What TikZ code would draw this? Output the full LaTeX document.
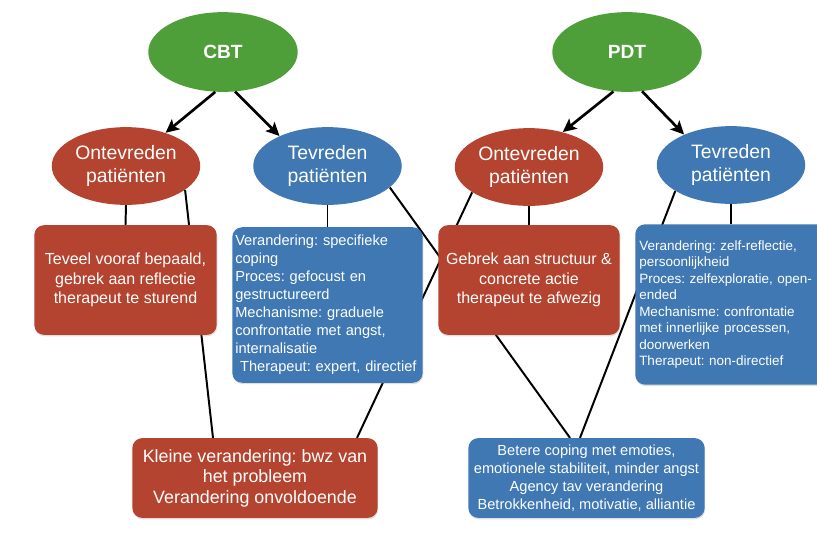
\documentclass[tikz,border=0pt]{standalone}
\usepackage{fontspec}
\setmainfont{Liberation Sans}
\frenchspacing
\usetikzlibrary{shapes.geometric,arrows.meta,backgrounds,calc,shadows}
\definecolor{therapygreen}{HTML}{4E9E3A}
\definecolor{negred}{HTML}{B4432F}
\definecolor{posblue}{HTML}{3F78B2}

\begin{document}
\begin{tikzpicture}[x=0.025cm,y=-0.025cm,
  every node/.style={text=white},
  therapy/.style={ellipse, fill=therapygreen, minimum width=106.3pt, minimum height=56.7pt,
    inner sep=0pt, font=\bfseries\fontsize{13.6}{16}\selectfont},
  patientgroup/.style={ellipse, minimum width=105.6pt, minimum height=55.3pt, inner sep=0pt,
    align=center, font=\fontsize{13.8}{16.3}\selectfont},
  neggroup/.style={patientgroup, fill=negred},
  posgroup/.style={patientgroup, fill=posblue},
  card/.style={rectangle, rounded corners=7pt, inner sep=0pt,
    drop shadow={opacity=0.25, shadow xshift=0.4pt, shadow yshift=-1pt}},
  negcard/.style={card, fill=negred, align=center},
  poscard/.style={card, fill=posblue},
  forkarrow/.style={-{Stealth[length=9.5pt,width=9pt,inset=2pt]}, line width=1.9pt, black},
  tie/.style={line width=1.4pt, black}
]
\useasboundingbox (0,0) rectangle (817,541);
\clip (0,0) rectangle (817,541);

% therapies
\node[therapy] (cbt) at (223,52) {CBT};
\node[therapy] (pdt) at (627,52) {PDT};

% patient groups
\node[neggroup] (oL) at (126,166) {Ontevreden\\patiënten};
\node[posgroup] (tL) at (327.5,166) {Tevreden\\patiënten};
\node[neggroup] (oR) at (529,167) {Ontevreden\\patiënten};
\node[posgroup] (tR) at (731,165) {Tevreden\\patiënten};

% experiences per group
\node[negcard, minimum width=129.7pt, minimum height=78pt,
  font=\fontsize{11.4}{13.8}\selectfont] (teveel) at (125.5,280)
  {Teveel vooraf bepaald,\\gebrek aan reflectie\\therapeut te sturend};
\node[poscard, text width=131.2pt, inner xsep=2.1pt, minimum height=110.6pt, align=left,
  font=\fontsize{10.4}{12.8}\selectfont] (cbtpos) at (327.5,305)
  {Verandering: specifieke\\coping\\Proces: gefocust en\\gestructureerd\\Mechanisme: graduele\\confrontatie met angst,\\internalisatie\\\ Therapeut: expert, directief};
\node[negcard, minimum width=129pt, minimum height=78pt,
  font=\fontsize{11.4}{13.8}\selectfont] (gebrek) at (529,280)
  {Gebrek aan structuur \&\\concrete actie\\therapeut te afwezig};
\node[poscard, text width=130.5pt, inner xsep=2.8pt, minimum height=114.1pt, align=left,
  font=\fontsize{9.6}{11.7}\selectfont] (pdtpos) at (731,304.5)
  {Verandering: zelf-reflectie,\\persoonlijkheid\\Proces: zelfexploratie, open-\\ended\\Mechanisme: confrontatie\\met innerlijke processen,\\doorwerken\\Therapeut: non-directief};

% outcomes
\node[negcard, minimum width=174.4pt, minimum height=56.7pt,
  font=\fontsize{12.7}{14.5}\selectfont] (kl) at (255,478)
  {Kleine verandering: bwz van\\het probleem\\Verandering onvoldoende};
\node[poscard, align=center, minimum width=168pt, minimum height=56.7pt,
  font=\fontsize{10.4}{12.8}\selectfont] (bt) at (586.5,478)
  {Betere coping met emoties,\\emotionele stabiliteit, minder angst\\Agency tav verandering\\Betrokkenheid, motivatie, alliantie};

% connectors run underneath the shapes
\begin{pgfonlayer}{background}
  \draw[tie] (oL.south) -- (teveel.north);
  \draw[tie] (tL.south) -- (cbtpos.north);
  \draw[tie] (oR.south) -- (gebrek.north);
  \draw[tie] (tR.south) -- (pdtpos.north);
  \draw[tie] (oL.-22) -- ($(kl.north)+(-42,0)$);
  \draw[tie] (oR.-156) -- ($(kl.north)+(102,0)$);
  \draw[tie] (tL.-19) -- ($(bt.north)+(-16.5,0)$);
  \draw[tie] (tR.-155) -- ($(bt.north)+(-6.5,0)$);
\end{pgfonlayer}

% arrows from therapies to patient groups
\draw[forkarrow] (cbt.-101) -- (oL.40);
\draw[forkarrow] (cbt.-73) -- (tL.148);
\draw[forkarrow] (pdt.-109) -- (oR.46.6);
\draw[forkarrow] (pdt.-69) -- (tR.147.5);
\end{tikzpicture}
\end{document}
